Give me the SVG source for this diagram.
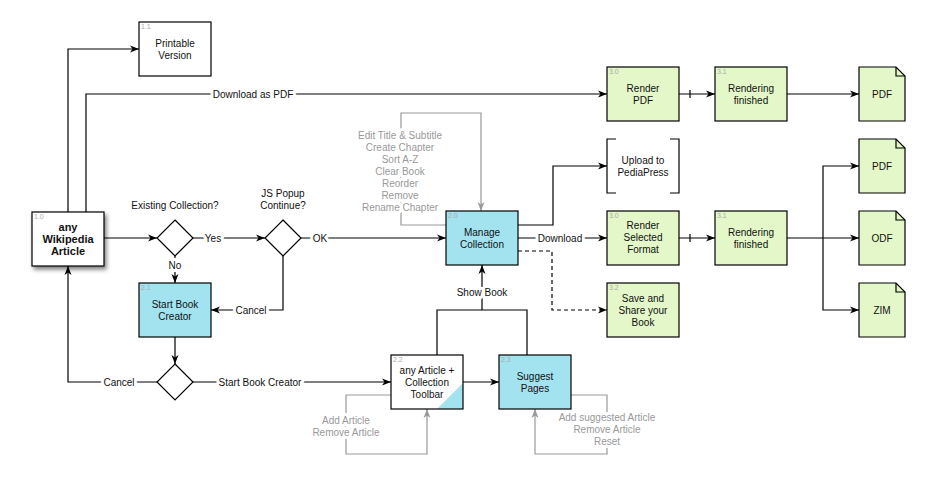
<svg xmlns="http://www.w3.org/2000/svg" width="926" height="479" viewBox="0 0 926 479">
<style>
text{font-family:"Liberation Sans",Arial,sans-serif;font-size:10px;fill:#111;text-anchor:middle}
.num{font-size:7px;fill:#aaa;text-anchor:start}
.b{font-weight:bold;font-size:11px}
.g{fill:#999}
.lbl{paint-order:stroke;stroke:#fff;stroke-width:6px;stroke-linejoin:round}
.box{stroke:#000;stroke-width:1.2}
.w{fill:#fff}
.blue{fill:#a3e3f0}
.green{fill:#e3f7c8}
.c{fill:none;stroke:#000;stroke-width:1.2}
.gc{fill:none;stroke:#999;stroke-width:1.2}
.d{stroke-dasharray:4 3}
</style>
<defs>
<marker id="a" markerWidth="10" markerHeight="8" refX="9" refY="4" orient="auto" markerUnits="userSpaceOnUse"><path d="M0,0.5 L9,4 L0,7.5 L2.5,4 Z" fill="#000"/></marker>
<marker id="ag" markerWidth="10" markerHeight="8" refX="9" refY="4" orient="auto" markerUnits="userSpaceOnUse"><path d="M0,0.5 L9,4 L0,7.5 L2.5,4 Z" fill="#999"/></marker>
<filter id="sh" x="-20%" y="-20%" width="150%" height="150%"><feDropShadow dx="2" dy="3" stdDeviation="2" flood-color="#000" flood-opacity="0.5"/></filter>
</defs>

<g id="connectors">
<path class="c" d="M68,212 V49 H139" marker-end="url(#a)"/>
<path class="c" d="M86,212 V94 H607" marker-end="url(#a)"/>
<path class="c" d="M104,238 H157" marker-end="url(#a)"/>
<path class="c" d="M193,238 H265" marker-end="url(#a)"/>
<path class="c" d="M175,256 V283" marker-end="url(#a)"/>
<path class="c" d="M283,256 V310 H211" marker-end="url(#a)"/>
<path class="c" d="M301,238 H446" marker-end="url(#a)"/>
<path class="c" d="M175,337 V364" marker-end="url(#a)"/>
<path class="c" d="M157,382 H68 V266" marker-end="url(#a)"/>
<path class="c" d="M193,382 H391" marker-end="url(#a)"/>
<path class="gc" d="M446,225 H401 V113 H481 V211" marker-end="url(#ag)"/>
<path class="c" d="M518,225 H553 V166 H607" marker-end="url(#a)"/>
<path class="c" d="M518,238 H607" marker-end="url(#a)"/>
<path class="c d" d="M518,251 H552 V310 H607" marker-end="url(#a)"/>
<path class="c" d="M679,94 H715" marker-end="url(#a)"/>
<path class="c" d="M690,90 V98"/>
<path class="c" d="M787,94 H859" marker-end="url(#a)"/>
<path class="c" d="M679,238 H715" marker-end="url(#a)"/>
<path class="c" d="M690,234 V242"/>
<path class="c" d="M787,238 H859" marker-end="url(#a)"/>
<path class="c" d="M823,238 V166 H859" marker-end="url(#a)"/>
<path class="c" d="M823,238 V310 H859" marker-end="url(#a)"/>
<path class="c" d="M463,382 H499" marker-end="url(#a)"/>
<path class="c" d="M437,355 V310 H527 V355"/>
<path class="c" d="M482,310 V265" marker-end="url(#a)"/>
<path class="gc" d="M391,395 H346 V454 H427 V409" marker-end="url(#ag)"/>
<path class="gc" d="M571,395 H607 V454 H535 V409" marker-end="url(#ag)"/>
</g>

<g id="labels">
<text class="lbl" x="253" y="98">Download as PDF</text>
<text x="175" y="209">Existing Collection?</text>
<text x="283" y="197">JS Popup</text>
<text x="283" y="209">Continue?</text>
<text class="lbl" x="213" y="242">Yes</text>
<text class="lbl" x="320" y="242">OK</text>
<text class="lbl" x="175" y="269">No</text>
<text class="lbl" x="251" y="314">Cancel</text>
<text class="lbl" x="119" y="386">Cancel</text>
<text class="lbl" x="260" y="386">Start Book Creator</text>
<text class="lbl" x="560" y="242">Download</text>
<text class="lbl" x="482" y="296">Show Book</text>
<text class="lbl g" x="400" y="139">Edit Title &amp; Subtitle</text>
<text class="lbl g" x="400" y="151">Create Chapter</text>
<text class="lbl g" x="400" y="163">Sort A-Z</text>
<text class="lbl g" x="400" y="175">Clear Book</text>
<text class="lbl g" x="400" y="187">Reorder</text>
<text class="lbl g" x="400" y="199">Remove</text>
<text class="lbl g" x="400" y="211">Rename Chapter</text>
<text class="lbl g" x="346" y="424">Add Article</text>
<text class="lbl g" x="346" y="436">Remove Article</text>
<text class="lbl g" x="607" y="421">Add suggested Article</text>
<text class="lbl g" x="607" y="433">Remove Article</text>
<text class="lbl g" x="607" y="445">Reset</text>
</g>

<g id="n1_1"><rect class="box w" x="139" y="22" width="72" height="54"/><text class="num" x="141" y="29">1.1</text><text x="175" y="47">Printable</text><text x="175" y="59">Version</text></g>
<g id="n1_0"><rect class="box w" x="32" y="212" width="72" height="54" filter="url(#sh)"/><text class="num" x="34" y="219">1.0</text><text class="b" x="68" y="231">any</text><text class="b" x="68" y="243">Wikipedia</text><text class="b" x="68" y="255">Article</text></g>
<g id="d1"><path class="box w" d="M175,220 L193,238 L175,256 L157,238 Z"/></g>
<g id="d2"><path class="box w" d="M283,220 L301,238 L283,256 L265,238 Z"/></g>
<g id="d3"><path class="box w" d="M175,364 L193,382 L175,400 L157,382 Z"/></g>
<g id="n2_1"><rect class="box blue" x="139" y="283" width="72" height="54"/><text class="num" x="141" y="290">2.1</text><text x="175" y="308">Start Book</text><text x="175" y="320">Creator</text></g>
<g id="n2_0"><rect class="box blue" x="446" y="211" width="72" height="54"/><text class="num" x="448" y="218">2.0</text><text x="482" y="236">Manage</text><text x="482" y="248">Collection</text></g>
<g id="n2_2"><rect class="w" x="391" y="355" width="72" height="54"/><path d="M437,409 L463,383 L463,409 Z" fill="#a3e3f0"/><rect x="391" y="355" width="72" height="54" fill="none" stroke="#000" stroke-width="1.2"/><text class="num" x="393" y="362">2.2</text><text x="427" y="374">any Article +</text><text x="427" y="386">Collection</text><text x="427" y="398">Toolbar</text></g>
<g id="n2_3"><rect class="box blue" x="499" y="355" width="72" height="54"/><text class="num" x="501" y="362">2.3</text><text x="535" y="380">Suggest</text><text x="535" y="392">Pages</text></g>
<g id="n3_0a"><rect class="box green" x="607" y="67" width="72" height="54"/><text class="num" x="609" y="74">3.0</text><text x="643" y="92">Render</text><text x="643" y="104">PDF</text></g>
<g id="n3_1a"><rect class="box green" x="715" y="67" width="72" height="54"/><text class="num" x="717" y="74">3.1</text><text x="751" y="92">Rendering</text><text x="751" y="104">finished</text></g>
<g id="upload"><path class="c" d="M616,139 H607 V193 H616 M670,139 H679 V193 H670"/><text x="643" y="164">Upload to</text><text x="643" y="176">PediaPress</text></g>
<g id="n3_0b"><rect class="box green" x="607" y="211" width="72" height="54"/><text class="num" x="609" y="218">3.0</text><text x="643" y="229">Render</text><text x="643" y="241">Selected</text><text x="643" y="253">Format</text></g>
<g id="n3_1b"><rect class="box green" x="715" y="211" width="72" height="54"/><text class="num" x="717" y="218">3.1</text><text x="751" y="236">Rendering</text><text x="751" y="248">finished</text></g>
<g id="n3_2"><rect class="box green" x="607" y="283" width="72" height="54"/><text class="num" x="609" y="290">3.2</text><text x="643" y="302">Save and</text><text x="643" y="314">Share your</text><text x="643" y="326">Book</text></g>
<g id="pdf1"><path class="box green" d="M859,67 H896 L905,76 V121 H859 Z"/><path class="c" d="M896,67 V76 H905"/><text x="882" y="98">PDF</text></g>
<g id="pdf2"><path class="box green" d="M859,139 H896 L905,148 V193 H859 Z"/><path class="c" d="M896,139 V148 H905"/><text x="882" y="170">PDF</text></g>
<g id="odf"><path class="box green" d="M859,211 H896 L905,220 V265 H859 Z"/><path class="c" d="M896,211 V220 H905"/><text x="882" y="242">ODF</text></g>
<g id="zim"><path class="box green" d="M859,283 H896 L905,292 V337 H859 Z"/><path class="c" d="M896,283 V292 H905"/><text x="882" y="314">ZIM</text></g>
</svg>
